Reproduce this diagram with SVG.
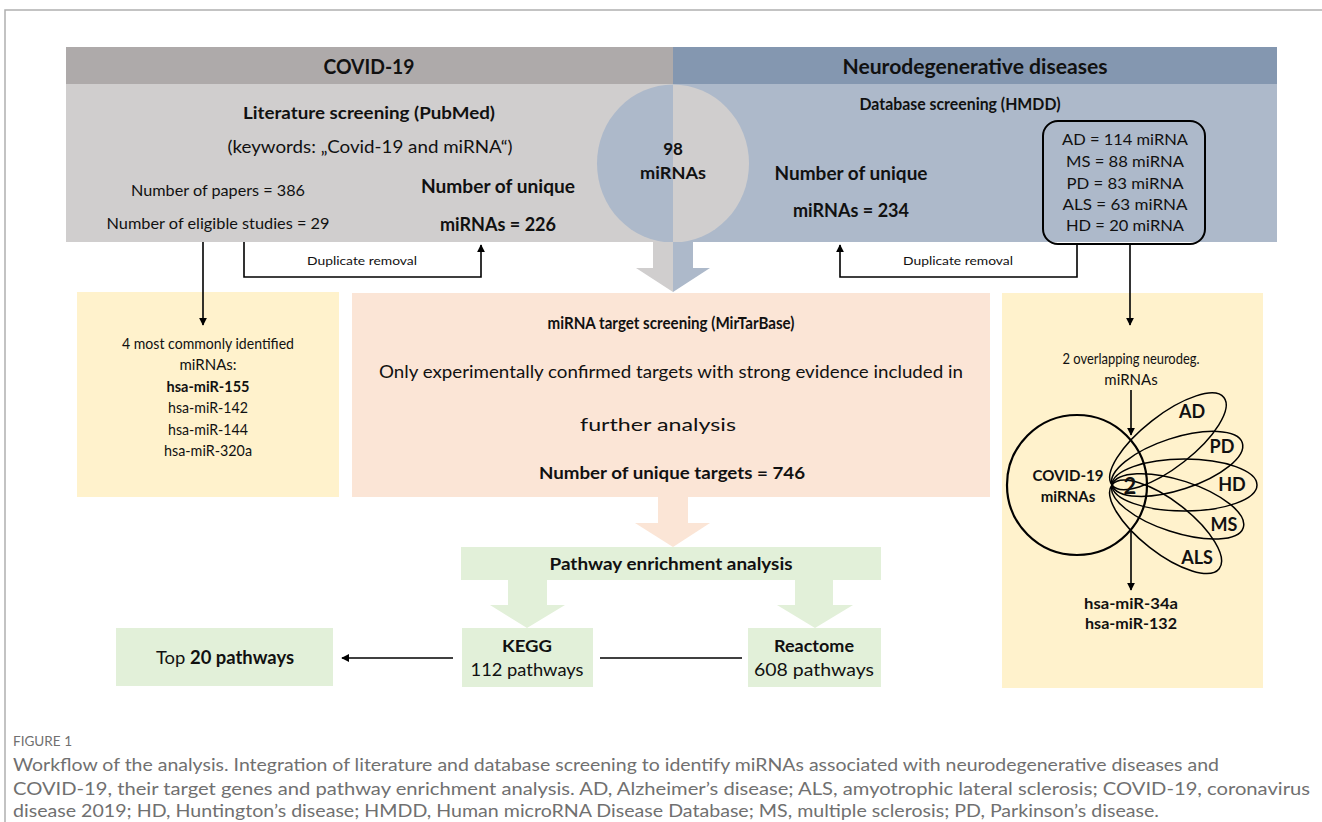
<svg xmlns="http://www.w3.org/2000/svg" width="1322" height="822" viewBox="0 0 1322 822">
<defs>
<marker id="ah" viewBox="0 0 10 10" refX="9" refY="5" markerWidth="8" markerHeight="8" markerUnits="userSpaceOnUse" orient="auto">
<path d="M0,0 L10,5 L0,10 z" fill="#000"/>
</marker>
<clipPath id="cl"><rect x="560" y="80" width="113" height="170"/></clipPath>
<clipPath id="cr"><rect x="673" y="80" width="113" height="170"/></clipPath>
</defs>
<style>
text{font-family:Lato,"Open Sans","Liberation Sans",sans-serif;fill:#111;text-anchor:middle}
.b{font-weight:bold}
.cap{font-family:Lato,"Open Sans","Liberation Sans",sans-serif;fill:#707070;text-anchor:start}
.ln{stroke:#000;stroke-width:1.6;fill:none}
.petal{fill:none;stroke:#000;stroke-width:1.5}
</style>
<rect width="1322" height="822" fill="#fff"/>
<path d="M5,822 V10 H1322" fill="none" stroke="#b0b0b0" stroke-width="1.5"/>

<g id="covid-panel">
<rect x="66" y="47" width="607" height="37" fill="#aeaaaa"/>
<rect x="66" y="84" width="607" height="158" fill="#d0cece"/>
<text x="369" y="74" class="b" font-size="20" textLength="91" lengthAdjust="spacingAndGlyphs">COVID-19</text>
<text x="369" y="119" class="b" font-size="17" textLength="252" lengthAdjust="spacingAndGlyphs">Literature screening (PubMed)</text>
<text x="370" y="153" font-size="18" textLength="285" lengthAdjust="spacingAndGlyphs">(keywords: „Covid-19 and miRNA“)</text>
<text x="218" y="196" font-size="15" textLength="174" lengthAdjust="spacingAndGlyphs">Number of papers = 386</text>
<text x="218" y="229" font-size="15" textLength="223" lengthAdjust="spacingAndGlyphs">Number of eligible studies = 29</text>
<text x="498" y="193" class="b" font-size="18" textLength="154" lengthAdjust="spacingAndGlyphs">Number of unique</text>
<text x="498" y="231" class="b" font-size="18" textLength="116" lengthAdjust="spacingAndGlyphs">miRNAs = 226</text>
</g>

<g id="neuro-panel">
<rect x="673" y="47" width="604" height="37" fill="#8497b0"/>
<rect x="673" y="84" width="604" height="158" fill="#adb9ca"/>
<text x="975" y="74" class="b" font-size="20" textLength="265" lengthAdjust="spacingAndGlyphs">Neurodegenerative diseases</text>
<text x="960" y="110" class="b" font-size="17" textLength="201" lengthAdjust="spacingAndGlyphs">Database screening (HMDD)</text>
<text x="851" y="180" class="b" font-size="18" textLength="153" lengthAdjust="spacingAndGlyphs">Number of unique</text>
<text x="851" y="217" class="b" font-size="18" textLength="116" lengthAdjust="spacingAndGlyphs">miRNAs = 234</text>
</g>

<g id="hmdd-box">
<rect x="1043" y="121" width="162" height="123" rx="15" fill="none" stroke="#000" stroke-width="2"/>
<text x="1125" y="145" font-size="15" textLength="126" lengthAdjust="spacingAndGlyphs">AD = 114 miRNA</text>
<text x="1125" y="167" font-size="15" textLength="118" lengthAdjust="spacingAndGlyphs">MS = 88 miRNA</text>
<text x="1125" y="189" font-size="15" textLength="117" lengthAdjust="spacingAndGlyphs">PD = 83 miRNA</text>
<text x="1125" y="210" font-size="15" textLength="125" lengthAdjust="spacingAndGlyphs">ALS = 63 miRNA</text>
<text x="1125" y="231" font-size="15" textLength="118" lengthAdjust="spacingAndGlyphs">HD = 20 miRNA</text>
</g>

<g id="overlap">
<ellipse cx="673" cy="163.5" rx="76" ry="79" fill="#adb9ca" clip-path="url(#cl)"/>
<ellipse cx="673" cy="163.5" rx="76" ry="79" fill="#d0cece" clip-path="url(#cr)"/>
<polygon points="653,242 673,242 673,292 636,268 653,268" fill="#d0cece"/>
<polygon points="673,242 693,242 693,268 710,268 673,292" fill="#adb9ca"/>
<text x="673" y="155" class="b" font-size="17">98</text>
<text x="673" y="179" class="b" font-size="17" textLength="66" lengthAdjust="spacingAndGlyphs">miRNAs</text>
</g>

<g id="top-mirnas">
<rect x="77" y="292" width="262" height="205" fill="#fff2cc"/>
<text x="208" y="349" font-size="15" textLength="172" lengthAdjust="spacingAndGlyphs">4 most commonly identified</text>
<text x="208" y="370" font-size="15">miRNAs:</text>
<text x="208" y="392" class="b" font-size="15" textLength="83" lengthAdjust="spacingAndGlyphs">hsa-miR-155</text>
<text x="208" y="413" font-size="15" textLength="80" lengthAdjust="spacingAndGlyphs">hsa-miR-142</text>
<text x="208" y="435" font-size="15" textLength="80" lengthAdjust="spacingAndGlyphs">hsa-miR-144</text>
<text x="208" y="456" font-size="15" textLength="88" lengthAdjust="spacingAndGlyphs">hsa-miR-320a</text>
</g>

<g id="target-screening">
<rect x="352" y="293" width="638" height="204" fill="#fbe5d6"/>
<text x="671" y="329" class="b" font-size="17" textLength="247" lengthAdjust="spacingAndGlyphs">miRNA target screening (MirTarBase)</text>
<text x="671" y="378" font-size="18" textLength="584" lengthAdjust="spacingAndGlyphs">Only experimentally confirmed targets with strong evidence included in</text>
<text x="658" y="431" font-size="18" textLength="156" lengthAdjust="spacingAndGlyphs">further analysis</text>
<text x="672" y="479" class="b" font-size="17" textLength="266" lengthAdjust="spacingAndGlyphs">Number of unique targets = 746</text>
<polygon points="658,497 688,497 688,523 710,523 673,547 635,523 658,523" fill="#fbe5d6"/>
</g>

<g id="venn-panel">
<rect x="1002" y="293" width="261" height="395" fill="#fff2cc"/>
<text x="1131" y="364" font-size="15" textLength="137" lengthAdjust="spacingAndGlyphs">2 overlapping neurodeg.</text>
<text x="1131" y="385" font-size="15">miRNAs</text>
<circle cx="1077" cy="485" r="70" fill="none" stroke="#000" stroke-width="2.2"/>
<ellipse class="petal" cx="1183" cy="485" rx="71" ry="26" transform="rotate(-38 1112 485)"/>
<ellipse class="petal" cx="1180.5" cy="485" rx="68.5" ry="26" transform="rotate(-18 1112 485)"/>
<ellipse class="petal" cx="1184.5" cy="485" rx="72.5" ry="26" transform="rotate(0 1112 485)"/>
<ellipse class="petal" cx="1181" cy="485" rx="69" ry="26" transform="rotate(18 1112 485)"/>
<ellipse class="petal" cx="1180" cy="485" rx="68" ry="26" transform="rotate(38 1112 485)"/>
<text x="1068" y="481" class="b" font-size="15" textLength="71" lengthAdjust="spacingAndGlyphs">COVID-19</text>
<text x="1068" y="502" class="b" font-size="15">miRNAs</text>
<text x="1130" y="494" class="b" font-size="22">2</text>
<text x="1192" y="418" class="b" font-size="18">AD</text>
<text x="1222" y="453" class="b" font-size="18">PD</text>
<text x="1232" y="491" class="b" font-size="18">HD</text>
<text x="1224" y="531" class="b" font-size="18">MS</text>
<text x="1197" y="564" class="b" font-size="18">ALS</text>
<text x="1131" y="609" class="b" font-size="15" textLength="94" lengthAdjust="spacingAndGlyphs">hsa-miR-34a</text>
<text x="1131" y="629" class="b" font-size="15" textLength="92" lengthAdjust="spacingAndGlyphs">hsa-miR-132</text>
</g>

<g id="pathway-enrichment">
<rect x="461" y="547" width="420" height="33" fill="#e2f0d9"/>
<text x="671" y="570" class="b" font-size="17" textLength="243" lengthAdjust="spacingAndGlyphs">Pathway enrichment analysis</text>
<polygon points="508,580 547,580 547,605 565,605 527,628 490,605 508,605" fill="#e2f0d9"/>
<polygon points="795,580 833,580 833,605 853,605 815,628 777,605 795,605" fill="#e2f0d9"/>
</g>

<g id="kegg">
<rect x="462" y="628" width="131" height="59" fill="#e2f0d9"/>
<text x="527" y="652" class="b" font-size="17" textLength="50" lengthAdjust="spacingAndGlyphs">KEGG</text>
<text x="527" y="676" font-size="17" textLength="113" lengthAdjust="spacingAndGlyphs">112 pathways</text>
</g>

<g id="reactome">
<rect x="748" y="628" width="133" height="59" fill="#e2f0d9"/>
<text x="814" y="652" class="b" font-size="17" textLength="80" lengthAdjust="spacingAndGlyphs">Reactome</text>
<text x="814" y="676" font-size="17" textLength="120" lengthAdjust="spacingAndGlyphs">608 pathways</text>
</g>

<g id="top20">
<rect x="116" y="628" width="217" height="58" fill="#e2f0d9"/>
<text x="225" y="664" font-size="18" textLength="138" lengthAdjust="spacingAndGlyphs">Top <tspan class="b">20 pathways</tspan></text>
</g>

<g id="connectors">
<path class="ln" d="M203,242 V325" marker-end="url(#ah)"/>
<path class="ln" d="M244,242 V277 H481 V245" marker-end="url(#ah)"/>
<path class="ln" d="M1077,244 V277 H840 V245" marker-end="url(#ah)"/>
<path class="ln" d="M1130,244 V325" marker-end="url(#ah)"/>
<path class="ln" d="M1131,390 V435" marker-end="url(#ah)"/>
<path class="ln" d="M1131,531 V590" marker-end="url(#ah)"/>
<path class="ln" d="M742,658 H600"/>
<path class="ln" d="M453,658 H342" marker-end="url(#ah)"/>
<text x="362" y="265" font-size="12" textLength="110" lengthAdjust="spacingAndGlyphs">Duplicate removal</text>
<text x="958" y="265" font-size="12" textLength="110" lengthAdjust="spacingAndGlyphs">Duplicate removal</text>
</g>

<g id="caption">
<text class="cap" x="13" y="746" font-size="13" textLength="59" lengthAdjust="spacingAndGlyphs">FIGURE 1</text>
<text class="cap" x="13" y="771" font-size="17" textLength="1206" lengthAdjust="spacingAndGlyphs">Workflow of the analysis. Integration of literature and database screening to identify miRNAs associated with neurodegenerative diseases and</text>
<text class="cap" x="13" y="795" font-size="17" textLength="1297" lengthAdjust="spacingAndGlyphs">COVID-19, their target genes and pathway enrichment analysis. AD, Alzheimer’s disease; ALS, amyotrophic lateral sclerosis; COVID-19, coronavirus</text>
<text class="cap" x="13" y="817" font-size="17" textLength="1146" lengthAdjust="spacingAndGlyphs">disease 2019; HD, Huntington’s disease; HMDD, Human microRNA Disease Database; MS, multiple sclerosis; PD, Parkinson’s disease.</text>
</g>
</svg>
